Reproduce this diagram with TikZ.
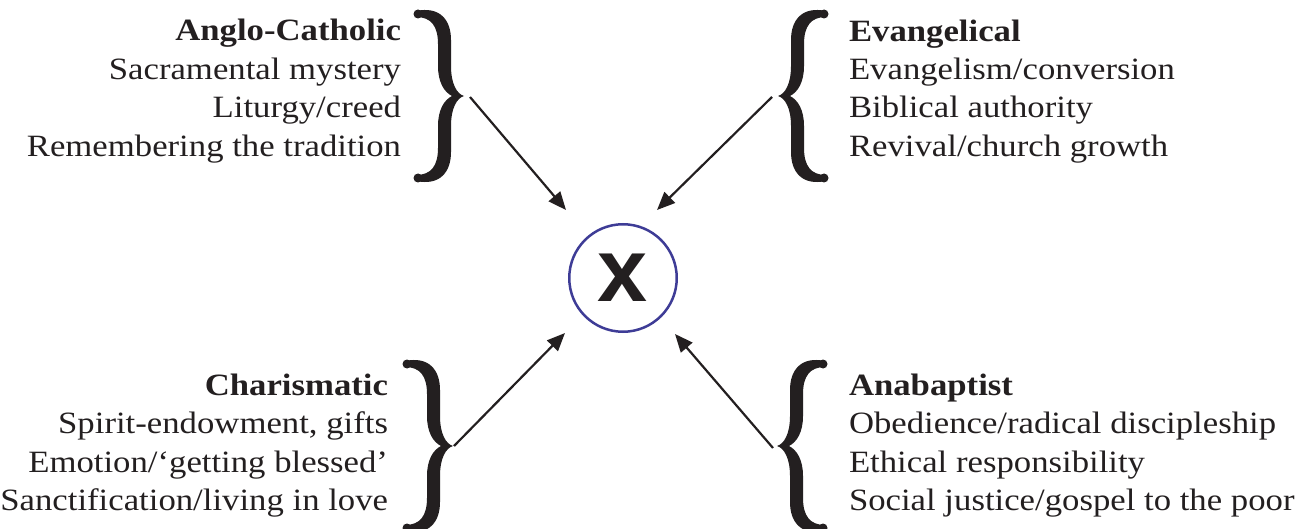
\documentclass[tikz,border=0pt]{standalone}
\usepackage{fontspec}
\setmainfont{Liberation Serif}[FakeStretch=1.12]
\newfontfamily\xfont{Liberation Sans}
\usetikzlibrary{arrows.meta}
\definecolor{ink}{HTML}{231F20}
\definecolor{ring}{RGB}{62,60,150}
\tikzset{
  lbl/.style={inner sep=0pt, outer sep=0pt, text=ink, font=\fontsize{31}{37}\selectfont},
  arr/.style={draw=ink, line width=2.2pt, -{Triangle[length=18pt,width=15pt]}},
  hub/.style={circle, draw=ring, line width=2.5pt, minimum size=107.5pt, inner sep=0pt,
    text=ink, font=\xfont\bfseries\fontsize{90}{90}\selectfont},
  bracepic/.pic={
    \fill[ink] (-48,-85) .. controls (-24,-90) and (-13,-76) .. (-13,-56)
      -- (-13,-30) .. controls (-13,-12) and (-7,-2) .. (0,0)
      .. controls (-7,2) and (-13,12) .. (-13,30)
      -- (-13,56) .. controls (-13,76) and (-24,90) .. (-48,85)
      -- (-48,79) .. controls (-33,79) and (-26,70) .. (-26,52)
      -- (-26,30) .. controls (-26,14) and (-20,4) .. (-12,0)
      .. controls (-20,-4) and (-26,-14) .. (-26,-30)
      -- (-26,-52) .. controls (-26,-70) and (-33,-79) .. (-48,-79) -- cycle;
    \fill[ink] (-46,-82) circle (4.5);
    \fill[ink] (-46,82) circle (4.5);
  }
}
\begin{document}
\begin{tikzpicture}[x=1pt,y=-1pt]
\useasboundingbox (0,0) rectangle (1306,529);

% centre
\node[hub] (c) at (623,278) {x};

% braces
\pic at (464,96) {bracepic};
\pic[xscale=-1] at (778,96) {bracepic};
\pic at (453,446) {bracepic};
\pic[xscale=-1] at (777,446) {bracepic};

% arrow coordinates
\coordinate (tlS) at (470,97);   \coordinate (tlE) at (566,210);
\coordinate (trS) at (772,97);   \coordinate (trE) at (657,210);
\coordinate (blS) at (454,446);  \coordinate (blE) at (565,333);
\coordinate (brS) at (773,448);  \coordinate (brE) at (675,334);
\draw[arr] (tlS) -- (tlE);
\draw[arr] (trS) -- (trE);
\draw[arr] (blS) -- (blE);
\draw[arr] (brS) -- (brE);

% top left
\node[lbl, anchor=base east] (tl1) at (401,41)  {\bfseries Anglo-Catholic};
\node[lbl, anchor=base east] (tl2) at (401,80)  {Sacramental mystery};
\node[lbl, anchor=base east] (tl3) at (401,118) {Liturgy/creed};
\node[lbl, anchor=base east] (tl4) at (401,157) {Remembering the tradition};

% top right
\node[lbl, anchor=base west] (tr1) at (849,42)  {\bfseries Evangelical};
\node[lbl, anchor=base west] (tr2) at (849,80)  {Evangelism/conversion};
\node[lbl, anchor=base west] (tr3) at (849,118) {Biblical authority};
\node[lbl, anchor=base west] (tr4) at (849,157) {Revival/church growth};

% bottom left
\node[lbl, anchor=base east] (bl1) at (388,395) {\bfseries Charismatic};
\node[lbl, anchor=base east] (bl2) at (388,433) {Spirit-endowment, gifts};
\node[lbl, anchor=base east] (bl3) at (388,472) {Emotion/‘getting blessed’};
\node[lbl, anchor=base east] (bl4) at (388,510) {Sanctification/living in love};

% bottom right
\node[lbl, anchor=base west] (br1) at (849,395) {\bfseries Anabaptist};
\node[lbl, anchor=base west] (br2) at (849,433) {Obedience/radical discipleship};
\node[lbl, anchor=base west] (br3) at (849,472) {Ethical responsibility};
\node[lbl, anchor=base west] (br4) at (849,510) {Social justice/gospel to the poor};
\end{tikzpicture}
\end{document}
